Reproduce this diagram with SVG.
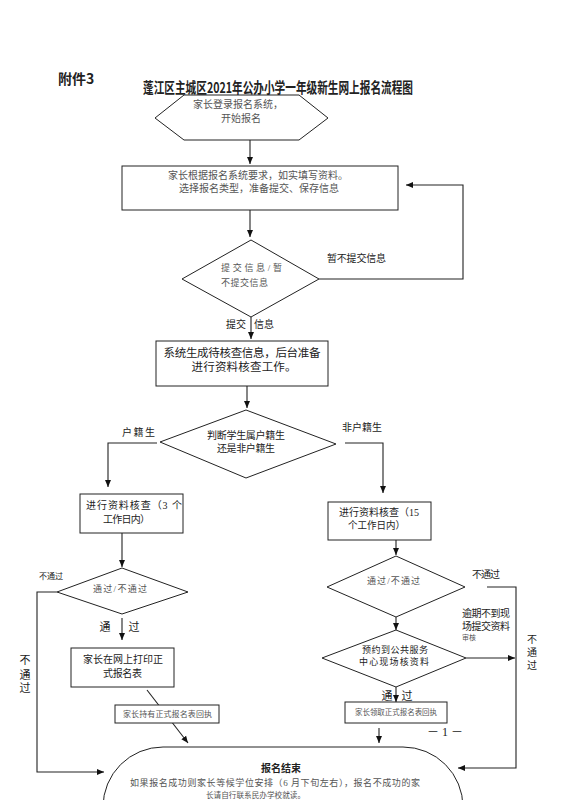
<svg xmlns="http://www.w3.org/2000/svg" width="566" height="800" viewBox="0 0 566 800">
<defs>
<marker id="arr" markerWidth="8" markerHeight="8" refX="7" refY="4" orient="auto" markerUnits="userSpaceOnUse"><path d="M0,1 L7,4 L0,7 z" fill="#111"/></marker>
<style>
.shape{fill:#fff;stroke:#222;stroke-width:1}
.con{fill:none;stroke:#222;stroke-width:1.1}
.arrow{marker-end:url(#arr)}
text{font-family:"Liberation Serif","Noto Sans CJK SC",serif;fill:#222}
.t10{font-size:10px}
.t9{font-size:9px}
.gray{fill:#555}
.mid{text-anchor:middle}
.bold{font-family:"Noto Sans CJK SC","Liberation Sans",sans-serif;font-weight:bold}
</style>
</defs>
<rect width="566" height="800" fill="#fff"/>

<g id="header">
<text x="58" y="84" class="bold" font-size="14">附件3</text>
<text x="143" y="93" class="bold" font-size="15" textLength="270" lengthAdjust="spacingAndGlyphs">蓬江区主城区2021年公办小学一年级新生网上报名流程图</text>
</g>

<g id="connectors">
<line class="con arrow" x1="250" y1="140" x2="250" y2="164"/>
<line class="con arrow" x1="250" y1="210" x2="250" y2="237"/>
<polyline class="con arrow" points="319,279 463,279 463,185 406,185"/>
<line class="con arrow" x1="251" y1="317" x2="251" y2="339"/>
<line class="con arrow" x1="247" y1="386" x2="247" y2="408"/>
<polyline class="con arrow" points="157,443 108,443 108,487"/>
<polyline class="con arrow" points="345,443 383,443 383,493"/>
<line class="con arrow" x1="122" y1="533" x2="122" y2="567"/>
<polyline class="con arrow" points="57,592 37,592 37,772 104,772"/>
<line class="con arrow" x1="122" y1="618" x2="122" y2="640"/>
<line class="con arrow" x1="147" y1="690" x2="188" y2="743"/>
<line class="con arrow" x1="396" y1="540" x2="396" y2="555"/>
<polyline class="con arrow" points="487,587 516,587 516,768 458,768"/>
<line class="con arrow" x1="396" y1="617" x2="396" y2="630"/>
<line class="con arrow" x1="466" y1="658" x2="515" y2="658"/>
<line class="con arrow" x1="396" y1="687" x2="396" y2="702"/>
<line class="con arrow" x1="379" y1="728" x2="379" y2="743"/>
</g>

<g id="labels">
<text x="327" y="262" class="t10" textLength="59">暂不提交信息</text>
<text x="236" y="328" class="t10 mid">提交</text>
<text x="264" y="328" class="t10 mid">信息</text>
<text x="122" y="436" class="t10" textLength="33">户 籍 生</text>
<text x="342" y="431" class="t10" textLength="40">非户籍生</text>
<text x="39" y="579" font-size="8" textLength="24">不通过</text>
<text x="105" y="631" font-size="11" class="mid">通</text>
<text x="134" y="631" font-size="11" class="mid">过</text>
<text x="25" y="664" font-size="11" class="mid">不</text>
<text x="25" y="679" font-size="11" class="mid">通</text>
<text x="25" y="692" font-size="11" class="mid">过</text>
<text x="472" y="578" class="t10" textLength="28">不通过</text>
<text x="462" y="617" class="t10" textLength="48">逾期不到现</text>
<text x="462" y="630" class="t10" textLength="48">场提交资料</text>
<text x="462" y="640" font-size="7" class="gray">审核</text>
<text x="532" y="643" class="t10 mid">不</text>
<text x="532" y="656" class="t10 mid">通</text>
<text x="532" y="669" class="t10 mid">过</text>
<text x="387" y="700" font-size="11" class="mid">通</text>
<text x="407" y="700" font-size="11" class="mid">过</text>
<text x="445" y="736" font-size="12" class="mid">－ 1 －</text>
</g>

<g id="start">
<polygon class="shape" points="155,118 184,95 299,95 328,118 299,140 184,140"/>
<text x="238" y="108" class="t10 mid gray">家长登录报名系统，</text>
<text x="241" y="122" class="t10 mid gray">开始报名</text>
</g>

<g id="fill-info">
<rect class="shape" x="122" y="166" width="276" height="44"/>
<text x="258" y="179" class="t10 mid gray">家长根据报名系统要求，如实填写资料。</text>
<text x="259" y="192" class="t10 mid gray">选择报名类型，准备提交、保存信息</text>
</g>

<g id="submit-decision">
<polygon class="shape" points="251,240 319,279 251,317 182,279"/>
<text x="221" y="271" class="t9 gray" textLength="61">提 交 信 息 / 暂</text>
<text x="221" y="286" class="t9 gray" textLength="47">不提交信息</text>
</g>

<g id="system-check">
<rect class="shape" x="156" y="341" width="172" height="45"/>
<text x="242" y="357" font-size="11.5" class="mid" textLength="157">系统生成待核查信息，后台准备</text>
<text x="244" y="371" font-size="11.5" class="mid" textLength="105">进行资料核查工作。</text>
</g>

<g id="residence-decision">
<polygon class="shape" points="246,410 336,444 246,478 160,442"/>
<text x="246" y="439" class="t10 mid" textLength="78">判断学生属户籍生</text>
<text x="246" y="452" class="t10 mid" textLength="58">还是非户籍生</text>
</g>

<g id="check-3">
<rect class="shape" x="80" y="494" width="103" height="39"/>
<text x="86" y="509" class="t10" textLength="96">进行资料核查（3 个</text>
<text x="103" y="522.5" class="t10" textLength="47">工作日内）</text>
</g>

<g id="check-15">
<rect class="shape" x="328" y="502" width="103" height="38"/>
<text x="339" y="516" class="t10" textLength="80">进行资料核查（15</text>
<text x="348" y="529" class="t10" textLength="57" lengthAdjust="spacingAndGlyphs">个工作日内）</text>
</g>

<g id="pass-left">
<polygon class="shape" points="122,568 188,592 122,614 57,592"/>
<text x="93" y="592" class="t9 gray" textLength="54">通过/不通过</text>
</g>

<g id="print-form">
<rect class="shape" x="71" y="648" width="103" height="39"/>
<text x="83" y="663" class="t10" textLength="80">家长在网上打印正</text>
<text x="103" y="677" class="t10" textLength="39">式报名表</text>
</g>

<g id="hold-receipt">
<rect class="shape" x="115" y="705" width="104" height="18"/>
<text x="123" y="717" font-size="8" class="gray" textLength="89">家长持有正式报名表回执</text>
</g>

<g id="pass-right">
<polygon class="shape" points="396,556 465,587 396,617 327,587"/>
<text x="367" y="584" class="t9 gray" textLength="53">通过/不通过</text>
</g>

<g id="onsite-check">
<polygon class="shape" points="396,630 466,658 396,687 322,658"/>
<text x="362" y="653" class="t9" textLength="66">预约到公共服务</text>
<text x="359" y="665" class="t9" textLength="70">中心现场核资料</text>
</g>

<g id="receive-receipt">
<rect class="shape" x="345" y="702" width="102" height="21"/>
<text x="355" y="715" font-size="7.5" class="gray" textLength="82" lengthAdjust="spacingAndGlyphs">家长领取正式报名表回执</text>
</g>

<g id="end">
<rect class="shape" x="103" y="747" width="360" height="120" rx="60" ry="60"/>
<text x="281" y="772" class="bold mid" font-size="10">报名结束</text>
<text x="130" y="786" class="t9 gray" textLength="290">如果报名成功则家长等候学位安排（6 月下旬左右），报名不成功的家</text>
<text x="206" y="798" font-size="8" class="gray" textLength="99" lengthAdjust="spacingAndGlyphs">长请自行联系民办学校就读。</text>
</g>
</svg>
